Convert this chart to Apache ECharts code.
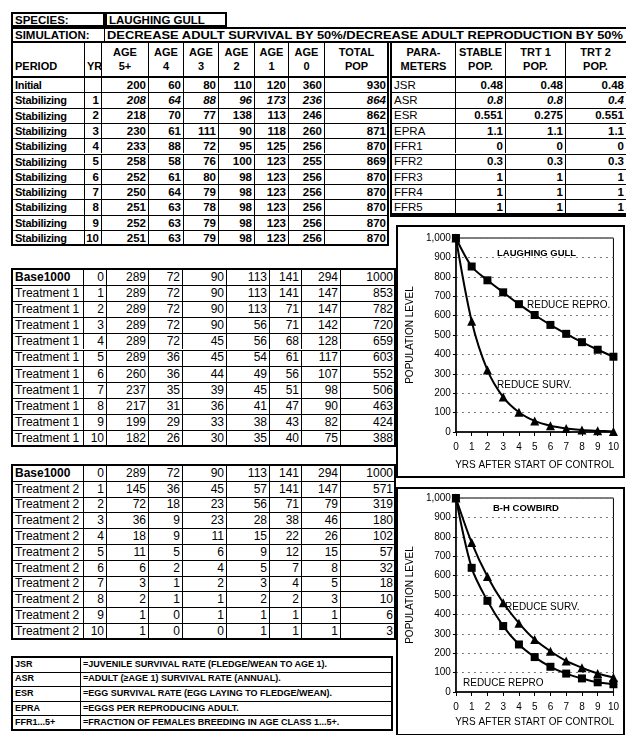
<!DOCTYPE html>
<html><head><meta charset="utf-8">
<script src="https://cdn.jsdelivr.net/npm/echarts@6/dist/echarts.min.js"></script>
<style>
html,body{margin:0;padding:0;background:#fff;}
#page{position:relative;width:626px;height:735px;overflow:hidden;background:#fff;font-family:"Liberation Sans",Arial,sans-serif;color:#000;}
.c{position:absolute;box-sizing:border-box;border-left:1px solid #000;border-top:1px solid #000;display:flex;align-items:center;padding:0 2px;white-space:nowrap;overflow:hidden;line-height:1.1;}
.f{position:absolute;box-sizing:border-box;border:2px solid #000;pointer-events:none;}
.ch{position:absolute;}
</style></head><body><div id="page"></div>
<script>
// ---------- DATA ----------
const speciesLabel = "SPECIES:";
const speciesName = "LAUGHING GULL";
const simulationLabel = "SIMULATION:";
const simulationText = "DECREASE ADULT SURVIVAL BY 50%/DECREASE ADULT REPRODUCTION BY 50%";
const headerTop = ["", "", "AGE", "AGE", "AGE", "AGE", "AGE", "AGE", "TOTAL"];
const headerBottom = ["PERIOD", "YR", "5+", "4", "3", "2", "1", "0", "POP"];
const paramHeaderTop = ["PARA-", "STABLE", "TRT 1", "TRT 2"];
const paramHeaderBottom = ["METERS", "POP.", "POP.", "POP."];

const stabPeriod = ["Initial", "Stabilizing", "Stabilizing", "Stabilizing", "Stabilizing", "Stabilizing", "Stabilizing", "Stabilizing", "Stabilizing", "Stabilizing", "Stabilizing"];
const stabYear = ["", 1, 2, 3, 4, 5, 6, 7, 8, 9, 10];
const stabAge5 = [200, 208, 218, 230, 233, 258, 252, 250, 251, 252, 251];
const stabAge4 = [60, 64, 70, 61, 88, 58, 61, 64, 63, 63, 63];
const stabAge3 = [80, 88, 77, 111, 72, 76, 80, 79, 78, 79, 79];
const stabAge2 = [110, 96, 138, 90, 95, 100, 98, 98, 98, 98, 98];
const stabAge1 = [120, 173, 113, 118, 125, 123, 123, 123, 123, 123, 123];
const stabAge0 = [360, 236, 246, 260, 256, 255, 256, 256, 256, 256, 256];
const stabTotal = [930, 864, 862, 871, 870, 869, 870, 870, 870, 870, 870];

const paramNames = ["JSR", "ASR", "ESR", "EPRA", "FFR1", "FFR2", "FFR3", "FFR4", "FFR5"];
const paramStable = ["0.48", "0.8", "0.551", "1.1", "0", "0.3", "1", "1", "1"];
const paramTrt1 = ["0.48", "0.8", "0.275", "1.1", "0", "0.3", "1", "1", "1"];
const paramTrt2 = ["0.48", "0.4", "0.551", "1.1", "0", "0.3", "1", "1", "1"];

const years = [0, 1, 2, 3, 4, 5, 6, 7, 8, 9, 10];
const t1Period = ["Base1000", "Treatment 1", "Treatment 1", "Treatment 1", "Treatment 1", "Treatment 1", "Treatment 1", "Treatment 1", "Treatment 1", "Treatment 1", "Treatment 1"];
const t1Age5 = [289, 289, 289, 289, 289, 289, 260, 237, 217, 199, 182];
const t1Age4 = [72, 72, 72, 72, 72, 36, 36, 35, 31, 29, 26];
const t1Age3 = [90, 90, 90, 90, 45, 45, 44, 39, 36, 33, 30];
const t1Age2 = [113, 113, 113, 56, 56, 54, 49, 45, 41, 38, 35];
const t1Age1 = [141, 141, 71, 71, 68, 61, 56, 51, 47, 43, 40];
const t1Age0 = [294, 147, 147, 142, 128, 117, 107, 98, 90, 82, 75];
const t1Total = [1000, 853, 782, 720, 659, 603, 552, 506, 463, 424, 388];

const t2Period = ["Base1000", "Treatment 2", "Treatment 2", "Treatment 2", "Treatment 2", "Treatment 2", "Treatment 2", "Treatment 2", "Treatment 2", "Treatment 2", "Treatment 2"];
const t2Age5 = [289, 145, 72, 36, 18, 11, 6, 3, 2, 1, 1];
const t2Age4 = [72, 36, 18, 9, 9, 5, 2, 1, 1, 0, 0];
const t2Age3 = [90, 45, 23, 23, 11, 6, 4, 2, 1, 1, 0];
const t2Age2 = [113, 57, 56, 28, 15, 9, 5, 3, 2, 1, 1];
const t2Age1 = [141, 141, 71, 38, 22, 12, 7, 4, 2, 1, 1];
const t2Age0 = [294, 147, 79, 46, 26, 15, 8, 5, 3, 1, 1];
const t2Total = [1000, 571, 319, 180, 102, 57, 32, 18, 10, 6, 3];

const legendAbbr = ["JSR", "ASR", "ESR", "EPRA", "FFR1...5+"];
const legendText = ["=JUVENILE SURVIVAL RATE (FLEDGE/WEAN TO AGE 1).", "=ADULT (\u2265AGE 1) SURVIVAL RATE (ANNUAL).", "=EGG SURVIVAL RATE (EGG LAYING TO FLEDGE/WEAN).", "=EGGS PER REPRODUCING ADULT.", "=FRACTION OF FEMALES BREEDING IN AGE CLASS 1...5+."];

// Laughing gull chart uses the totals of the two treatments
const gullReduceRepro = t1Total;
const gullReduceSurv = t2Total;
// Cowbird chart
const cowReduceSurv = [1000, 770, 595, 460, 355, 270, 210, 160, 125, 95, 75];
const cowReduceRepro = [1000, 640, 470, 340, 245, 180, 130, 95, 70, 50, 40];

const chartYLabel = "POPULATION LEVEL";
const chartXLabel = "YRS AFTER START OF CONTROL";

// ---------- LAYOUT HELPERS ----------
const page = document.getElementById('page');
const FONT = '"Liberation Sans", Arial, sans-serif';
function cell(x, y, w, h, html, align, st) {
  const d = document.createElement('div');
  d.className = 'c';
  d.style.left = x + 'px'; d.style.top = y + 'px';
  d.style.width = w + 'px'; d.style.height = h + 'px';
  d.style.justifyContent = align === 'r' ? 'flex-end' : align === 'c' ? 'center' : 'flex-start';
  if (align === 'c') d.style.textAlign = 'center';
  if (st) Object.assign(d.style, st);
  d.innerHTML = html;
  page.appendChild(d);
  return d;
}
function frame(x, y, w, h, bw) {
  const d = document.createElement('div');
  d.className = 'f';
  d.style.left = (x - 1) + 'px'; d.style.top = (y - 1) + 'px';
  d.style.width = (w + 2) + 'px'; d.style.height = (h + 2) + 'px';
  d.style.borderWidth = (bw || 2) + 'px';
  page.appendChild(d);
}
function grid(xs, y0, rh, cols, aligns, styleFn) {
  const n = cols[0].length;
  for (let r = 0; r < n; r++) {
    for (let c = 0; c < cols.length; c++) {
      const st = styleFn ? styleFn(r, c) : null;
      cell(xs[c], y0 + r * rh, xs[c + 1] - xs[c], rh, String(cols[c][r]), aligns[c], st);
    }
  }
  frame(xs[0], y0, xs[xs.length - 1] - xs[0], n * rh, 2);
}

// ---------- TOP TABLE ----------
const topX = [12, 84, 101, 148, 183, 218, 254, 288, 324, 388];
const parX = [391, 455, 505, 565, 629];
const bold11 = {fontWeight: 'bold', fontSize: '11.5px'};
cell(12, 13, 92, 13, speciesLabel, 'l', bold11);
frame(12, 13, 92, 13, 2);
cell(106, 13, 120, 13, speciesName, 'l', bold11);
frame(106, 13, 120, 13, 2);
cell(12, 28, 92, 14, simulationLabel, 'l', bold11);
cell(104, 28, 530, 14, '<span id="simt">' + simulationText + '</span>', 'l', bold11);
frame(12, 28, 630, 14, 2);

const hY = 42, hH = 35;
for (let c = 0; c < headerBottom.length; c++) {
  const two = headerTop[c] !== '';
  cell(topX[c], hY, topX[c + 1] - topX[c], hH,
       two ? headerTop[c] + '<br>' + headerBottom[c] : headerBottom[c],
       two ? 'c' : 'l',
       Object.assign({fontWeight: 'bold', fontSize: '11px', lineHeight: '1.25'}, two ? {} : {alignItems: 'flex-end', paddingBottom: '3px'}));
}
for (let c = 0; c < paramHeaderTop.length; c++) {
  cell(parX[c], hY, parX[c + 1] - parX[c], hH, paramHeaderTop[c] + '<br>' + paramHeaderBottom[c], 'c',
       Object.assign({fontWeight: 'bold', fontSize: '11px', lineHeight: '1.25'}, c === 3 ? {paddingRight: '6px'} : {}));
}
const rY = 77, rH = 15.3;
grid(topX, rY, rH, [stabPeriod, stabYear, stabAge5, stabAge4, stabAge3, stabAge2, stabAge1, stabAge0, stabTotal],
     ['l', 'r', 'r', 'r', 'r', 'r', 'r', 'r', 'r'],
     (r, c) => {
       const s = {fontWeight: 'bold', fontSize: '11.5px'};
       if (c === 0) { s.fontSize = '11px'; s.letterSpacing = '-0.3px'; }
       if (r === 1 && c > 1) s.fontStyle = 'italic';
       return s;
     });
frame(topX[0], hY, topX[topX.length - 1] - topX[0], hH + 11 * rH, 2);
grid(parX, rY, rH, [paramNames, paramStable, paramTrt1, paramTrt2], ['l', 'r', 'r', 'r'],
     (r, c) => {
       const s = {fontWeight: 'bold', fontSize: '11.5px'};
       if (c === 0) s.fontWeight = 'normal';
       if (c === 3) s.paddingRight = '5px';
       if (r === 1 && c > 0) s.fontStyle = 'italic';
       return s;
     });
frame(parX[0], hY, 240, hH + 9 * rH, 2);
frame(parX[0], rY + 9 * rH - 1, 240, 2, 2);

// ---------- TREATMENT TABLES ----------
const tX = [12, 83, 106, 148, 182, 226, 269, 301, 340, 395];
const tStyle = (r, c) => {
  const s = {fontSize: '12px'};
  if (c === 0 && r === 0) s.fontWeight = 'bold';
  return s;
};
grid(tX, 269, 16.1, [t1Period, years, t1Age5, t1Age4, t1Age3, t1Age2, t1Age1, t1Age0, t1Total],
     ['l', 'r', 'r', 'r', 'r', 'r', 'r', 'r', 'r'], tStyle);
grid(tX, 465, 15.8, [t2Period, years, t2Age5, t2Age4, t2Age3, t2Age2, t2Age1, t2Age0, t2Total],
     ['l', 'r', 'r', 'r', 'r', 'r', 'r', 'r', 'r'], tStyle);

// ---------- LEGEND TABLE ----------
grid([12, 80, 392], 657, 14.6, [legendAbbr, legendText], ['l', 'l'],
     () => ({fontSize: '9px', fontWeight: 'bold'}));

// fit simulation text
(function () {
  const sp = document.getElementById('simt');
  const w = sp.getBoundingClientRect().width;
  const target = 516;
  sp.style.display = 'inline-block';
  sp.style.transformOrigin = 'left center';
  sp.style.transform = 'scaleX(' + (target / w) + ')';
})();

// ---------- CHARTS ----------
function makeChart(x, y, w, h, gridTop, gridBottom, labelMargin, nameGap, reproData, survData, texts) {
  const d = document.createElement('div');
  d.className = 'ch';
  d.style.left = x + 'px'; d.style.top = y + 'px';
  d.style.width = w + 'px'; d.style.height = h + 'px';
  page.appendChild(d);
  frame(x, y, w + 2, h, 2);
  const ch = echarts.init(d, null, {renderer: 'canvas'});
  const txt = {color: '#000', fontFamily: FONT, fontSize: 10};
  ch.setOption({
    animation: false,
    backgroundColor: '#fff',
    grid: {left: 46, right: 7, top: gridTop, bottom: gridBottom, show: true, borderColor: '#000', borderWidth: 1, backgroundColor: 'transparent'},
    xAxis: {
      type: 'value', min: 0, max: 10, interval: 1,
      axisLine: {lineStyle: {color: '#000', width: 1.5}},
      axisTick: {show: true, length: 4, lineStyle: {color: '#000'}},
      axisLabel: Object.assign({margin: labelMargin}, txt),
      splitLine: {show: false},
      name: chartXLabel, nameLocation: 'middle', nameGap: nameGap,
      nameTextStyle: Object.assign({}, txt)
    },
    yAxis: {
      type: 'value', min: 0, max: 1000, interval: 100,
      axisLine: {show: true, lineStyle: {color: '#000', width: 1.5}},
      axisTick: {show: true, length: 3, lineStyle: {color: '#000'}},
      axisLabel: Object.assign({margin: 5}, txt),
      splitLine: {show: true, lineStyle: {color: '#777', type: [2, 4], width: 1}},
      name: chartYLabel, nameLocation: 'middle', nameGap: 30, nameRotate: 90,
      nameTextStyle: Object.assign({}, txt)
    },
    series: [
      {type: 'line', data: years.map((v, i) => [v, reproData[i]]), smooth: 0.3, symbol: 'rect', symbolSize: 8,
       lineStyle: {color: '#000', width: 2}, itemStyle: {color: '#000'}, clip: false},
      {type: 'line', data: years.map((v, i) => [v, survData[i]]), smooth: 0.3, symbol: 'triangle', symbolSize: 9,
       lineStyle: {color: '#000', width: 2}, itemStyle: {color: '#000'}, clip: false}
    ],
    graphic: texts.map(t => ({
      type: 'text', left: t.x, top: t.y, z: 100,
      style: {text: t.t, fill: '#000', font: (t.b ? 'bold ' : '') + t.s + 'px ' + FONT, textAlign: 'center', textVerticalAlign: 'middle'}
    }))
  });
  return ch;
}
makeChart(397, 226, 225, 251, 12, 45, 10, 28, gullReduceRepro, gullReduceSurv, [
  {t: 'LAUGHING GULL', x: 100, y: 22, s: 9.5, b: true},
  {t: 'REDUCE REPRO.', x: 130, y: 74, s: 10},
  {t: 'REDUCE SURV.', x: 100, y: 154, s: 10}
]);
makeChart(397, 488, 225, 247, 10, 43, 10, 22, cowReduceRepro, cowReduceSurv, [
  {t: 'B-H COWBIRD', x: 96, y: 15, s: 9.5, b: true},
  {t: 'REDUCE SURV.', x: 108, y: 114, s: 10},
  {t: 'REDUCE REPRO', x: 66, y: 190, s: 10}
]);
</script></body></html>
